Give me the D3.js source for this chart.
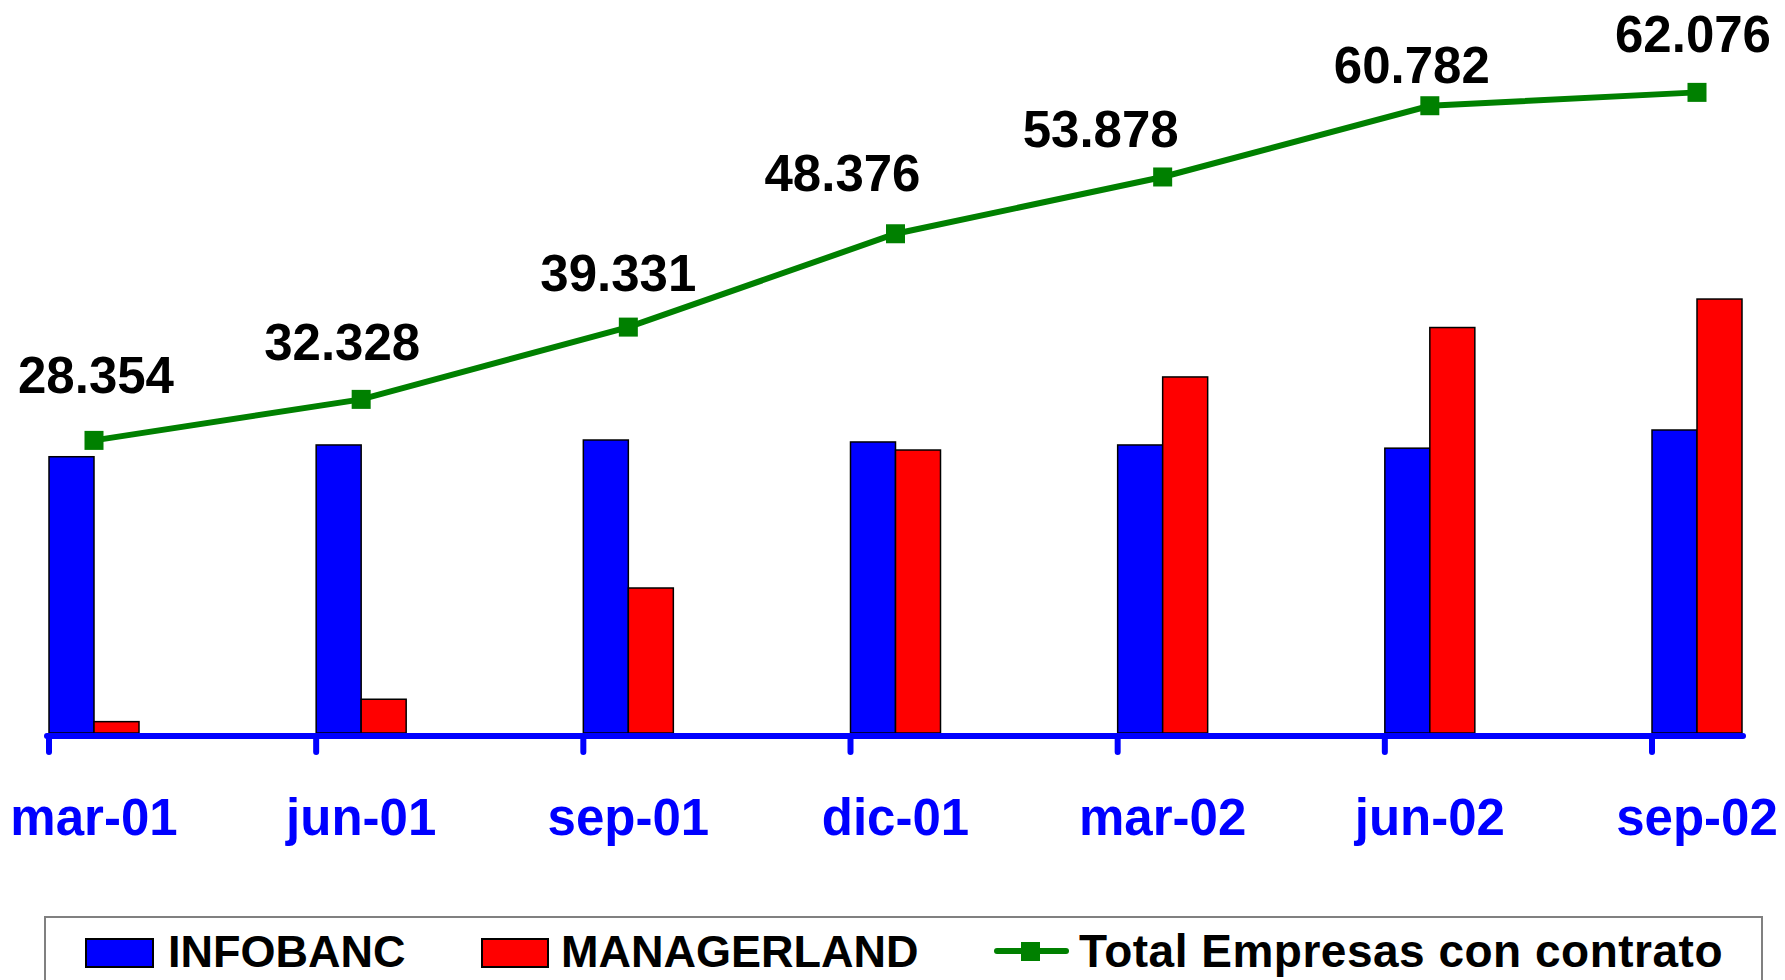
<!DOCTYPE html>
<html>
<head>
<meta charset="utf-8">
<script src="https://cdn.jsdelivr.net/npm/d3@7"></script>
<style>
  html, body { margin: 0; background: #ffffff; }
  svg { display: block; }
  text { font-family: "Liberation Sans", Arial, sans-serif; font-weight: bold; }
</style>
</head>
<body>
<div id="chart"></div>
<script>
// data
const periods = ["mar-01", "jun-01", "sep-01", "dic-01", "mar-02", "jun-02", "sep-02"];
const infobanc = [26770, 27910, 28390, 28200, 27910, 27600, 29360];
const managerland = [1100, 3270, 14050, 27420, 34500, 39290, 42050];
const totalEmpresas = [28354, 32328, 39331, 48376, 53878, 60782, 62076];
const seriesNames = ["INFOBANC", "MANAGERLAND", "Total Empresas con contrato"];

// hand placed value labels in the original (offset from the marker)
const labelNudge = [[2, -47], [-19, -39], [-10, -36], [-53, -43], [-62, -30], [-18, -23], [-4, -40]];

const width = 1785, height = 980;
const blue = "#0000ff", red = "#ff0000", green = "#008000";
const barW = 45;

const es = d3.formatLocale({decimal: ",", thousands: ".", grouping: [3], currency: ["", " €"]});
const fmt = es.format(",d");

const svg = d3.select("#chart").append("svg")
  .attr("width", width)
  .attr("height", height);

const x = d3.scalePoint().domain(periods).range([94, 1697]);
const y = d3.scaleLinear().domain([0, 70000]).range([733, 10.6]);

const rows = periods.map((p, i) => ({
  period: p,
  info: infobanc[i],
  mgr: managerland[i],
  total: totalEmpresas[i],
  nudge: labelNudge[i]
}));

// bars
svg.append("g").selectAll("rect")
  .data(rows)
  .join("rect")
  .attr("x", d => x(d.period) - barW)
  .attr("y", d => y(d.info))
  .attr("width", barW)
  .attr("height", d => y(0) - y(d.info))
  .attr("fill", blue)
  .attr("stroke", "#000")
  .attr("stroke-width", 1.5);

svg.append("g").selectAll("rect")
  .data(rows)
  .join("rect")
  .attr("x", d => x(d.period))
  .attr("y", d => y(d.mgr))
  .attr("width", barW)
  .attr("height", d => y(0) - y(d.mgr))
  .attr("fill", red)
  .attr("stroke", "#000")
  .attr("stroke-width", 1.5);

// category axis
const axisY = 736;
const axis = svg.append("g")
  .attr("stroke", blue)
  .attr("stroke-width", 6)
  .attr("stroke-linecap", "round");

axis.append("line")
  .attr("x1", x(periods[0]) - barW - 2)
  .attr("x2", x(periods[periods.length - 1]) + barW + 1)
  .attr("y1", axisY)
  .attr("y2", axisY);

axis.selectAll("line.tick")
  .data(periods)
  .join("line")
  .attr("class", "tick")
  .attr("x1", d => x(d) - barW)
  .attr("x2", d => x(d) - barW)
  .attr("y1", axisY)
  .attr("y2", 752);

svg.append("g").selectAll("text")
  .data(periods)
  .join("text")
  .attr("x", d => x(d))
  .attr("y", 835)
  .attr("text-anchor", "middle")
  .attr("font-size", 51)
  .attr("fill", blue)
  .text(d => d);

// total line
const line = d3.line()
  .x(d => x(d.period))
  .y(d => y(d.total));

svg.append("path")
  .datum(rows)
  .attr("d", line)
  .attr("fill", "none")
  .attr("stroke", green)
  .attr("stroke-width", 6);

svg.append("g").selectAll("rect")
  .data(rows)
  .join("rect")
  .attr("x", d => x(d.period) - 9.5)
  .attr("y", d => y(d.total) - 9.5)
  .attr("width", 19)
  .attr("height", 19)
  .attr("fill", green);

svg.append("g").selectAll("text")
  .data(rows)
  .join("text")
  .attr("x", d => x(d.period) + d.nudge[0])
  .attr("y", d => y(d.total) + d.nudge[1])
  .attr("text-anchor", "middle")
  .attr("font-size", 51)
  .attr("fill", "#000")
  .text(d => fmt(d.total));

// legend
const legend = svg.append("g");
legend.append("rect")
  .attr("x", 45)
  .attr("y", 917)
  .attr("width", 1717)
  .attr("height", 90)
  .attr("fill", "#fff")
  .attr("stroke", "#808080")
  .attr("stroke-width", 2);

legend.append("rect")
  .attr("x", 86).attr("y", 939).attr("width", 67).attr("height", 28)
  .attr("fill", blue).attr("stroke", "#000").attr("stroke-width", 2);
legend.append("text")
  .attr("x", 168).attr("y", 967).attr("font-size", 45)
  .text(seriesNames[0]);

legend.append("rect")
  .attr("x", 482).attr("y", 939).attr("width", 66).attr("height", 28)
  .attr("fill", red).attr("stroke", "#000").attr("stroke-width", 2);
legend.append("text")
  .attr("x", 561).attr("y", 967).attr("font-size", 45)
  .text(seriesNames[1]);

legend.append("line")
  .attr("x1", 997).attr("x2", 1066).attr("y1", 951).attr("y2", 951)
  .attr("stroke", green).attr("stroke-width", 6).attr("stroke-linecap", "round");
legend.append("rect")
  .attr("x", 1021).attr("y", 942).attr("width", 19).attr("height", 19)
  .attr("fill", green);
legend.append("text")
  .attr("x", 1079).attr("y", 967).attr("font-size", 46)
  .attr("letter-spacing", 0.5)
  .text(seriesNames[2]);
</script>
</body>
</html>
